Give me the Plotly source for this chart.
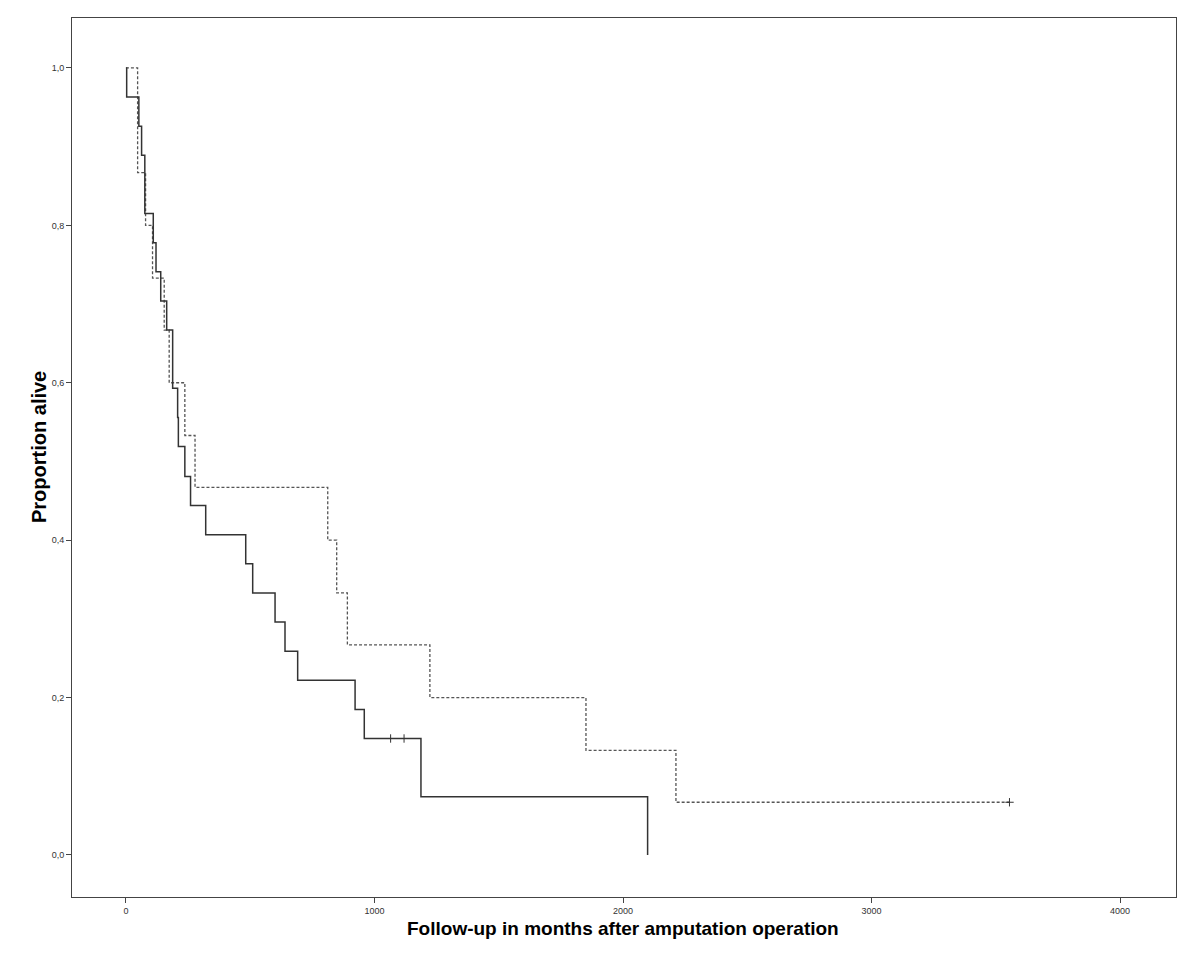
import plotly.graph_objects as go

# Solid group: step times (months) and survival proportion after each step
solid_times = [0, 3, 52, 63, 76, 110, 121, 140, 164, 188, 208, 211, 237, 260,
               321, 482, 510, 600, 640, 691, 922, 959, 1187, 2099]
solid_surv = [1.0, 0.963, 0.926, 0.889, 0.815, 0.778, 0.741, 0.704, 0.667,
              0.593, 0.556, 0.519, 0.481, 0.444, 0.407, 0.370, 0.333, 0.296,
              0.259, 0.222, 0.185, 0.148, 0.074, 0.0]
solid_cens_t = [1065, 1119]
solid_cens_s = [0.148, 0.148]

# Dashed group
dash_times = [0, 47, 79, 107, 154, 174, 237, 278, 812, 848, 891, 1223, 1851,
              2213, 3555]
dash_surv = [1.0, 0.867, 0.8, 0.733, 0.667, 0.6, 0.533, 0.467, 0.4, 0.333,
             0.267, 0.2, 0.133, 0.067, 0.067]
dash_cens_t = [3555]
dash_cens_s = [0.067]

x_ticks = [0, 1000, 2000, 3000, 4000]
x_labels = ["0", "1000", "2000", "3000", "4000"]
y_ticks = [0.0, 0.2, 0.4, 0.6, 0.8, 1.0]
y_labels = ["0,0", "0,2", "0,4", "0,6", "0,8", "1,0"]

font_fam = "Liberation Sans, Arial, sans-serif"

fig = go.Figure()
fig.add_trace(go.Scatter(x=dash_times, y=dash_surv, mode="lines",
                         line=dict(shape="hv", color="#555555", width=1.3, dash="3px,2px"),
                         showlegend=False, hoverinfo="skip"))
fig.add_trace(go.Scatter(x=solid_times, y=solid_surv, mode="lines",
                         line=dict(shape="hv", color="#333333", width=1.5),
                         showlegend=False, hoverinfo="skip"))
fig.add_trace(go.Scatter(x=solid_cens_t, y=solid_cens_s, mode="markers",
                         marker=dict(symbol="cross-thin", size=6, line=dict(color="#333333", width=1)),
                         showlegend=False, hoverinfo="skip"))
fig.add_trace(go.Scatter(x=dash_cens_t, y=dash_cens_s, mode="markers",
                         marker=dict(symbol="cross-thin", size=6, line=dict(color="#333333", width=1)),
                         showlegend=False, hoverinfo="skip"))

PLOT_W = 1104
PLOT_H = 879

fig.update_layout(
    width=1200, height=961,
    margin=dict(l=64, r=32, t=10, b=72),
    paper_bgcolor="white", plot_bgcolor="white",
    font=dict(family=font_fam, color="#000000"),
    annotations=[
        dict(text="<b>Follow-up in months after amputation operation</b>",
             xref="paper", yref="paper", x=(623 - 72) / PLOT_W,
             y=-31 / PLOT_H, xanchor="center", yanchor="middle", showarrow=False,
             font=dict(size=19, family=font_fam, color="#000000")),
        dict(text="<b>Proportion alive</b>",
             xref="paper", yref="paper", x=-33 / PLOT_W, y=(897 - 447) / PLOT_H,
             xanchor="center", yanchor="middle", showarrow=False, textangle=-90,
             font=dict(size=20, family=font_fam, color="#000000")),
    ],
)
fig.update_xaxes(
    range=[-217, 4225], tickvals=x_ticks, ticktext=x_labels,
    showgrid=False, zeroline=False,
    showline=True, linecolor="#444444", linewidth=1, mirror=True,
    ticks="outside", ticklen=5, tickcolor="#444444",
    tickfont=dict(size=9, family=font_fam, color="#333333"),
)
fig.update_yaxes(
    range=[-0.0534, 1.0635], tickvals=y_ticks, ticktext=y_labels,
    showgrid=False, zeroline=False,
    showline=True, linecolor="#444444", linewidth=1, mirror=True,
    ticks="outside", ticklen=5, tickcolor="#444444",
    tickfont=dict(size=9, family=font_fam, color="#333333"),
)

fig.write_html("out.html")
